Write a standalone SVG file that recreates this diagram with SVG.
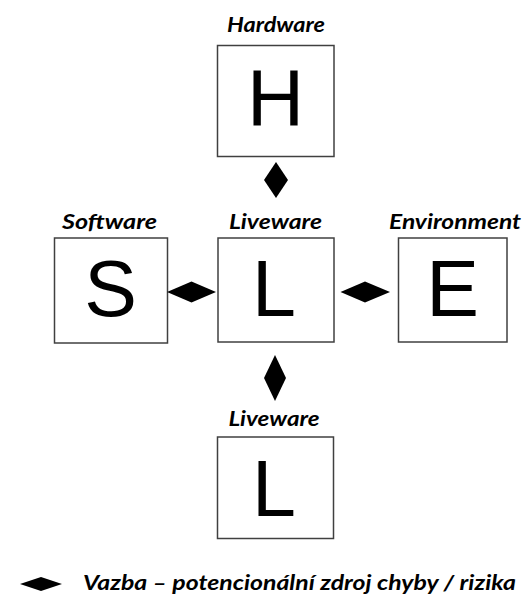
<svg xmlns="http://www.w3.org/2000/svg" width="525" height="597" viewBox="0 0 525 597">
  <defs>
    <style>
      .box { fill: #ffffff; stroke: #404040; stroke-width: 1.5; }
      .big { font-family: "Liberation Sans", Arial, sans-serif; font-size: 79px; fill: #000000; text-anchor: middle; }
      .label { font-family: Lato, "Open Sans", sans-serif; font-weight: bold; font-style: italic; font-size: 20.5px; fill: #000000; }
      .link { fill: #000000; }
    </style>
  </defs>
  <rect width="525" height="597" fill="#ffffff"/>

  <g id="hardware">
    <text class="label" x="227" y="32" textLength="98" lengthAdjust="spacingAndGlyphs">Hardware</text>
    <rect class="box" x="217.5" y="45.5" width="116.5" height="111"/>
    <text class="big" x="275.5" y="125">H</text>
  </g>

  <g id="software">
    <text class="label" x="62" y="229" textLength="95" lengthAdjust="spacingAndGlyphs">Software</text>
    <rect class="box" x="54.5" y="238" width="113" height="105"/>
    <text class="big" x="110.5" y="316">S</text>
  </g>

  <g id="liveware">
    <text class="label" x="229" y="229" textLength="93" lengthAdjust="spacingAndGlyphs">Liveware</text>
    <rect class="box" x="218" y="238" width="116" height="104"/>
    <text class="big" x="274" y="316">L</text>
  </g>

  <g id="environment">
    <text class="label" x="389" y="229" textLength="132" lengthAdjust="spacingAndGlyphs">Environment</text>
    <rect class="box" x="398.5" y="238" width="108.5" height="104"/>
    <text class="big" x="452.5" y="316">E</text>
  </g>

  <g id="liveware-2">
    <text class="label" x="228.5" y="426" textLength="91" lengthAdjust="spacingAndGlyphs">Liveware</text>
    <rect class="box" x="217.5" y="437" width="116" height="101.5"/>
    <text class="big" x="274" y="516">L</text>
  </g>

  <g id="connectors">
    <!-- H - L -->
    <polygon class="link" points="276,162 288,180 276,198 264,180"/>
    <!-- S - L -->
    <polygon class="link" points="167,292 191.5,281.5 216,292 191.5,302.5"/>
    <!-- L - E -->
    <polygon class="link" points="340.5,292 365,281.5 390,292 365,302.5"/>
    <!-- L - L -->
    <polygon class="link" points="275,355 286,378 275,401 264,378"/>
  </g>

  <g id="legend">
    <polygon class="link" points="20,584 41,577 62,584 41,591"/>
    <text class="label" x="83" y="590" font-size="21" textLength="433" lengthAdjust="spacingAndGlyphs">Vazba – potencionální  zdroj chyby / rizika</text>
  </g>
</svg>
